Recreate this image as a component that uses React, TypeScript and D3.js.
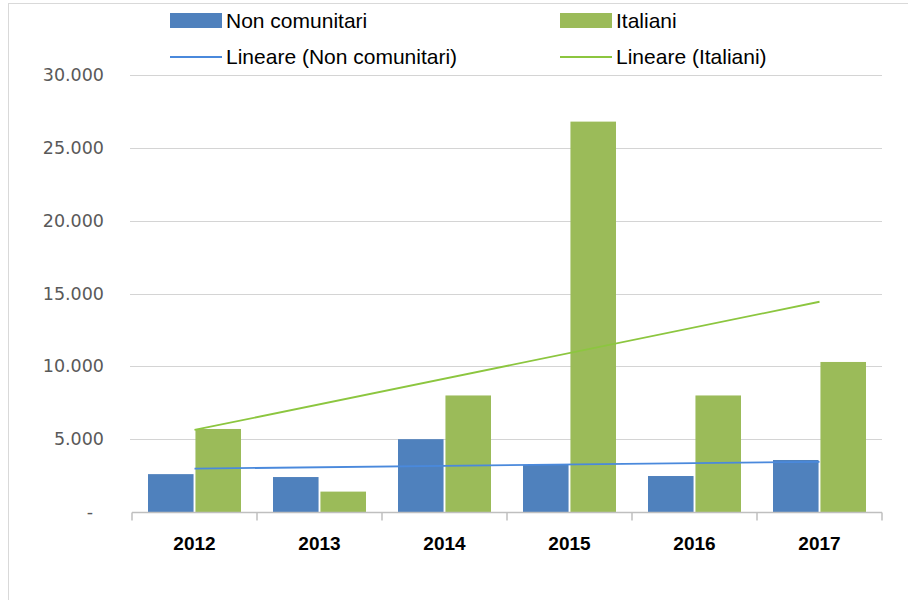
import React, { useEffect, useRef } from "react";
import * as d3 from "d3";

const years = ["2012", "2013", "2014", "2015", "2016", "2017"];
const nonComunitari = [2600, 2400, 5000, 3230, 2470, 3570];
const italiani = [5700, 1400, 8000, 26800, 8000, 10300];
const yTicks = [0, 5000, 10000, 15000, 20000, 25000, 30000];
const seriesNames = ["Non comunitari", "Italiani"];
const trendNames = ["Lineare (Non comunitari)", "Lineare (Italiani)"];

const BLUE = "#4F81BD";
const GREEN = "#9BBB59";
const BLUE_TREND = "#4A89DC";
const GREEN_TREND = "#8CC63F";

// least squares fit, as Excel does for its linear trendline
function linearFit(values: number[]) {
  const n = values.length;
  const xs = values.map((_, i) => i + 1);
  const mx = d3.mean(xs) as number;
  const my = d3.mean(values) as number;
  let num = 0;
  let den = 0;
  xs.forEach((x, i) => {
    num += (x - mx) * (values[i] - my);
    den += (x - mx) * (x - mx);
  });
  const slope = num / den;
  return [my + slope * (1 - mx), my + slope * (n - mx)];
}

const fmt = (v: number) => (v === 0 ? "-" : d3.format(",")(v).replace(/,/g, "."));

export default function App() {
  const ref = useRef<SVGSVGElement | null>(null);

  useEffect(() => {
    const svg = d3.select(ref.current);
    svg.selectAll("*").remove();

    const width = 908;
    const height = 600;
    const margin = { top: 75, right: 26, bottom: 88, left: 132 };

    // outer frame
    svg.append("rect")
      .attr("x", 8.5)
      .attr("y", 3.5)
      .attr("width", width)
      .attr("height", height)
      .attr("fill", "#fff")
      .attr("stroke", "#d9d9d9");

    const x = d3.scaleBand()
      .domain(years)
      .range([margin.left, width - margin.right]);

    const inner = d3.scaleBand()
      .domain(seriesNames)
      .range([16, x.bandwidth() - 16])
      .paddingInner(0.04);

    const y = d3.scaleLinear()
      .domain([0, 30000])
      .range([height - margin.bottom, margin.top]);

    // GRID
    svg.append("g")
      .selectAll("line")
      .data(yTicks.filter(t => t > 0))
      .enter()
      .append("line")
      .attr("x1", margin.left - 2)
      .attr("x2", width - margin.right)
      .attr("y1", d => Math.round(y(d)) + 0.5)
      .attr("y2", d => Math.round(y(d)) + 0.5)
      .attr("stroke", "#d4d4d4")
      .attr("stroke-width", 1.2);

    // Y labels
    svg.append("g")
      .selectAll("text")
      .data(yTicks)
      .enter()
      .append("text")
      .attr("x", d => (d === 0 ? 93 : 104))
      .attr("y", d => y(d))
      .attr("dy", "0.35em")
      .attr("text-anchor", "end")
      .attr("font-family", "'DejaVu Sans', Verdana, sans-serif")
      .attr("font-size", "17.5px")
      .attr("fill", "#595959")
      .text(d => fmt(d));

    // BARS
    const groups = svg.append("g")
      .selectAll("g")
      .data(years)
      .enter()
      .append("g")
      .attr("transform", d => `translate(${x(d)},0)`);

    groups.append("rect")
      .attr("x", d => inner("Non comunitari") as number)
      .attr("width", inner.bandwidth())
      .attr("y", (d, i) => y(nonComunitari[i]))
      .attr("height", (d, i) => y(0) - y(nonComunitari[i]))
      .attr("fill", BLUE);

    groups.append("rect")
      .attr("x", d => inner("Italiani") as number)
      .attr("width", inner.bandwidth())
      .attr("y", (d, i) => y(italiani[i]))
      .attr("height", (d, i) => y(0) - y(italiani[i]))
      .attr("fill", GREEN);

    // X axis
    const axisY = Math.round(y(0)) + 0.5;
    svg.append("line")
      .attr("x1", margin.left)
      .attr("x2", width - margin.right)
      .attr("y1", axisY)
      .attr("y2", axisY)
      .attr("stroke", "#bfbfbf")
      .attr("stroke-width", 1.5);

    const boundaries = years.map(d => x(d) as number).concat([width - margin.right]);
    svg.append("g")
      .selectAll("line")
      .data(boundaries)
      .enter()
      .append("line")
      .attr("x1", d => d)
      .attr("x2", d => d)
      .attr("y1", axisY)
      .attr("y2", axisY + 8)
      .attr("stroke", "#bfbfbf")
      .attr("stroke-width", 1.5);

    svg.append("g")
      .selectAll("text")
      .data(years)
      .enter()
      .append("text")
      .attr("x", d => (x(d) as number) + x.bandwidth() / 2)
      .attr("y", 550)
      .attr("text-anchor", "middle")
      .attr("font-family", "'Liberation Sans Narrow', 'Liberation Sans', Arial, sans-serif")
      .attr("font-weight", "bold")
      .attr("font-size", "19px")
      .attr("fill", "#000")
      .text(d => d);

    // TRENDLINES
    const xStart = (x(years[0]) as number) + x.bandwidth() / 2;
    const xEnd = (x(years[years.length - 1]) as number) + x.bandwidth() / 2;
    [[nonComunitari, BLUE_TREND], [italiani, GREEN_TREND]].forEach(([vals, color]) => {
      const [a, b] = linearFit(vals as number[]);
      svg.append("line")
        .attr("x1", xStart)
        .attr("x2", xEnd)
        .attr("y1", y(a))
        .attr("y2", y(b))
        .attr("stroke", color as string)
        .attr("stroke-width", 1.8);
    });

    // LEGEND
    const legend = svg.append("g")
      .attr("font-family", "'Liberation Sans Narrow', 'Liberation Sans', Arial, sans-serif")
      .attr("font-size", "21px")
      .attr("fill", "#000");
    const cols = [170, 560];
    seriesNames.forEach((name, i) => {
      legend.append("rect")
        .attr("x", cols[i])
        .attr("y", 13)
        .attr("width", 52)
        .attr("height", 15)
        .attr("fill", i === 0 ? BLUE : GREEN);
      legend.append("text")
        .attr("x", cols[i] + 56)
        .attr("y", 21)
        .attr("dy", "0.35em")
        .text(name);
    });
    trendNames.forEach((name, i) => {
      legend.append("line")
        .attr("x1", cols[i])
        .attr("x2", cols[i] + 52)
        .attr("y1", 57)
        .attr("y2", 57)
        .attr("stroke", i === 0 ? BLUE_TREND : GREEN_TREND)
        .attr("stroke-width", 1.8);
      legend.append("text")
        .attr("x", cols[i] + 56)
        .attr("y", 57)
        .attr("dy", "0.35em")
        .text(name);
    });
  }, []);

  return (
    <div style={{ position: "absolute", left: 0, top: 0 }}>
      <svg ref={ref} width={908} height={600} style={{ display: "block" }} />
    </div>
  );
}
